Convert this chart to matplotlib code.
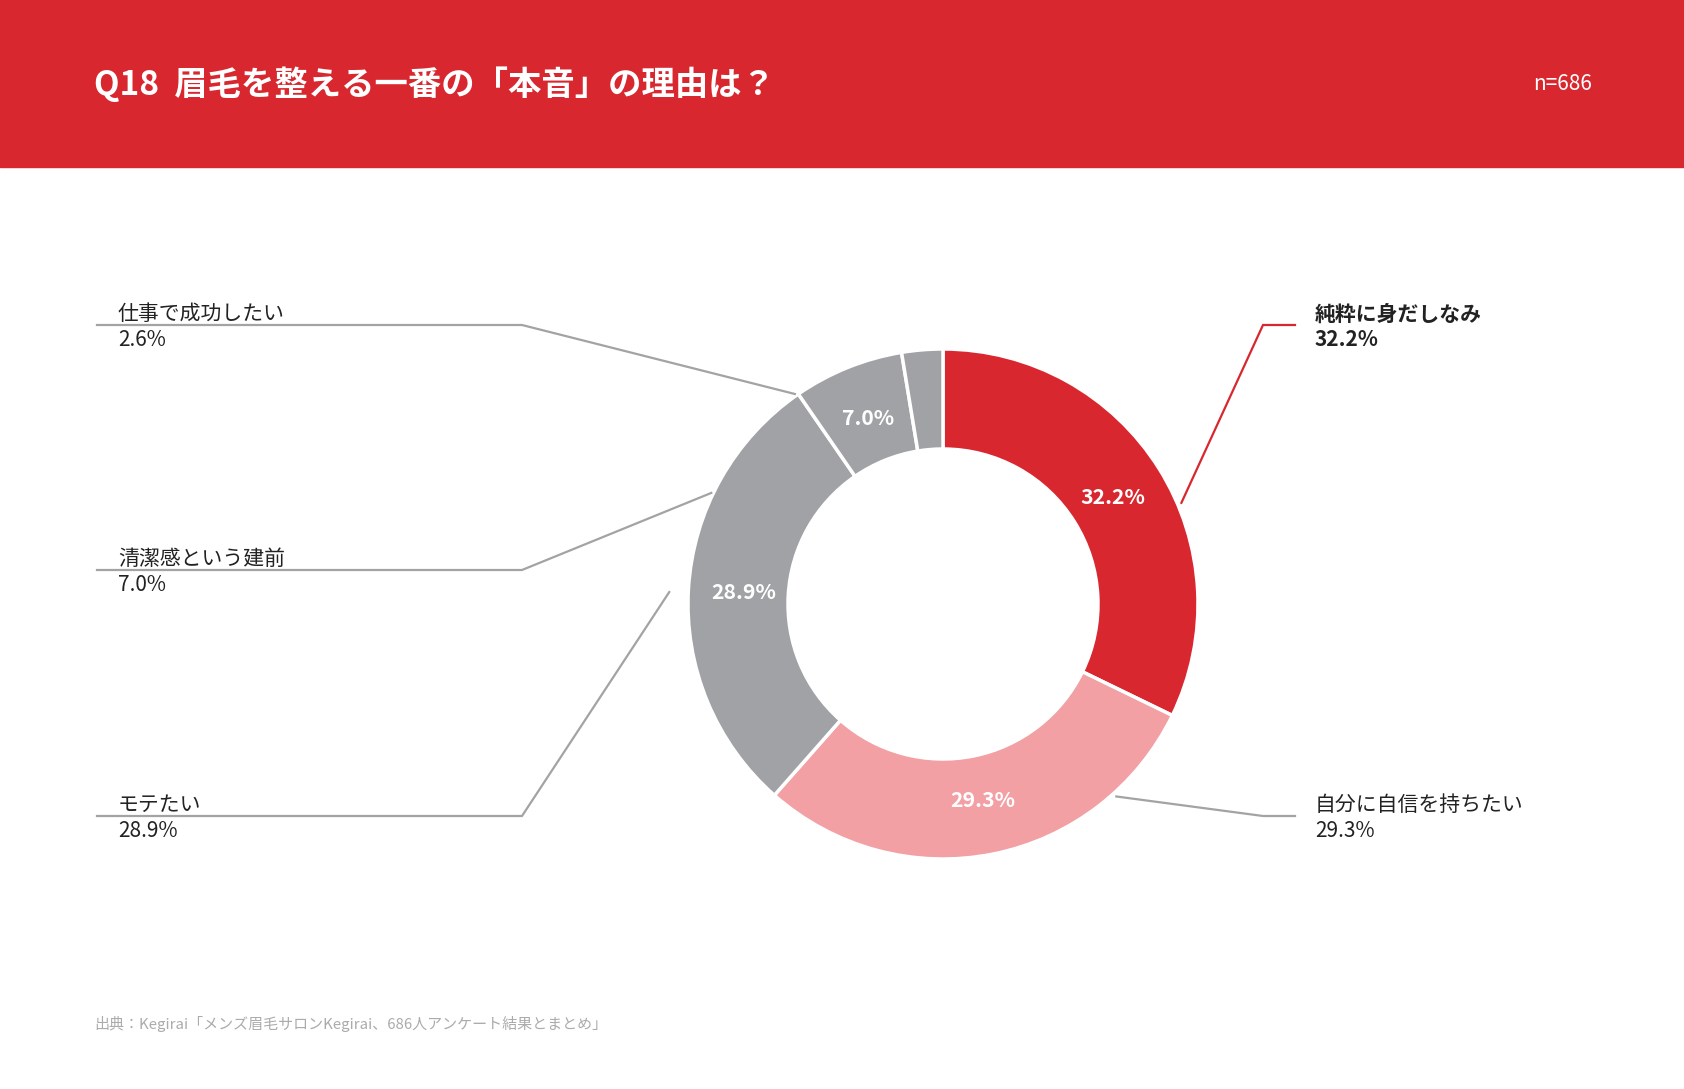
import numpy as np
import matplotlib
matplotlib.use("Agg")
import matplotlib.pyplot as plt
from matplotlib.patches import Rectangle

plt.rcParams['font.family'] = ['Noto Sans CJK JP', 'DejaVu Sans']

# data
labels = ['純粋に身だしなみ', '自分に自信を持ちたい', 'モテたい', '清潔感という建前', '仕事で成功したい']
values = [32.2, 29.3, 28.9, 7.0, 2.6]
pct_text = ['32.2%', '29.3%', '28.9%', '7.0%', '']
title = 'Q18  眉毛を整える一番の「本音」の理由は？'
n_text = 'n=686'
source = '出典：Kegirai「メンズ眉毛サロンKegirai、686人アンケート結果とまとめ」'

# style / layout (pixel space, y down)
W, H = 1684, 1089
RED = '#D8272E'
PINK = '#F2A0A4'
GRAY = '#A1A2A5'
LINE_GRAY = '#A3A3A3'
colors = [RED, PINK, GRAY, GRAY, GRAY]
cx, cy = 943, 604
r_out, r_in = 255, 155

# leader anchors: angle (deg, ccw from east), radius; knee y; side
anchor_ang = [23, -48, 177.5, 154.4, 125.2]
anchor_r = [259, 259, 274, 257, 257]
knee_y = [325, 816, 816, 570, 325]
side = ['R', 'R', 'L', 'L', 'L']
bold_label = [True, False, False, False, False]


def Y(y):
    return H - y


fig = plt.figure(figsize=(W / 100, H / 100), dpi=100)
ax = fig.add_axes([0, 0, 1, 1])

wedges, _ = ax.pie(values, colors=colors, startangle=90, counterclock=False,
                   center=(cx, Y(cy)), radius=r_out,
                   wedgeprops=dict(width=r_out - r_in, edgecolor='white', linewidth=2.5))
ax.set_xlim(0, W)
ax.set_ylim(0, H)
ax.set_aspect('equal')
ax.axis('off')

# header band
ax.add_patch(Rectangle((0, Y(167)), W, 167, color=RED, zorder=0))
ax.text(94, Y(84), title, color='white', fontsize=24, fontweight='bold', va='center', ha='left')
ax.text(1592, Y(84), n_text, color='white', fontsize=15, va='center', ha='right')

# inner percentages
r_mid = 200
for w, t in zip(wedges, pct_text):
    if not t:
        continue
    a = np.deg2rad((w.theta1 + w.theta2) / 2)
    ax.text(cx + r_mid * np.cos(a), Y(cy) + r_mid * np.sin(a), t, color='white',
            fontsize=15.3, fontweight='bold', ha='center', va='center')

# leaders + outer labels
for i, lab in enumerate(labels):
    a = np.deg2rad(anchor_ang[i])
    ax0 = cx + anchor_r[i] * np.cos(a)
    ay0 = Y(cy) + anchor_r[i] * np.sin(a)
    lc = RED if i == 0 else LINE_GRAY
    if side[i] == 'R':
        kx, ex, tx = 1263, 1295, 1315
    else:
        kx, ex, tx = 522, 97, 118
    ax.plot([ax0, kx, ex], [ay0, Y(knee_y[i]), Y(knee_y[i])], color=lc, lw=1.6,
            solid_joinstyle='miter')
    fw = 'bold' if bold_label[i] else 'normal'
    tc = '#222222'
    ax.text(tx, Y(knee_y[i] - 11), lab, color=tc, fontsize=15, fontweight=fw,
            ha='left', va='center')
    ax.text(tx, Y(knee_y[i] + 15), f'{values[i]:.1f}%', color=tc, fontsize=15,
            fontweight=fw, ha='left', va='center')

# source
ax.text(94, Y(1024), source, color='#ABABAB', fontsize=10.8, ha='left', va='center')

fig.savefig('out.png', dpi=100, facecolor='white')
